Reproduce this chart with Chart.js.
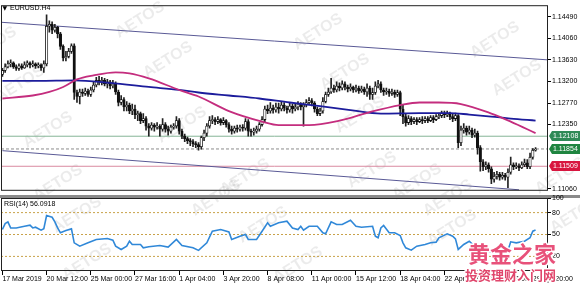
<!DOCTYPE html>
<html><head><meta charset="utf-8">
<script src="https://cdn.jsdelivr.net/npm/chart.js@4.4.1/dist/chart.umd.min.js"></script>
<style>
html,body{margin:0;padding:0;background:#fff;}
#wrap{position:relative;width:580px;height:286px;overflow:hidden;background:#fff;}
canvas{position:absolute;left:0;}
</style></head><body>
<div id="wrap">
<canvas id="bg" width="580" height="286" style="top:0"></canvas>
<canvas id="main" width="580" height="196" style="top:0"></canvas>
<canvas id="rsi" width="580" height="100" style="top:186px"></canvas>
</div>
<script>
// ---------- DATA ----------
const symbolTitle = 'EURUSD.H4';
const rsiTitle = 'RSI(14) 56.0918';
const opens = [
1.1334,1.1342,1.1349,1.1355,1.1357,1.1349,1.1346,1.1351,1.1347,1.1353,
1.1357,1.1353,1.1355,1.1351,1.1353,1.1347,1.1355,1.1430,1.1434,1.1422,
1.1428,1.1415,1.1390,1.1367,1.1370,1.1380,1.1391,1.1298,1.1290,1.1299,
1.1296,1.1301,1.1294,1.1303,1.1313,1.1322,1.1319,1.1322,1.1315,1.1319,
1.1311,1.1315,1.1299,1.1278,1.1284,1.1269,1.1273,1.1261,1.1265,1.1254,
1.1256,1.1242,1.1246,1.1231,1.1227,1.1233,1.1229,1.1231,1.1225,1.1234,
1.1225,1.1221,1.1229,1.1231,1.1242,1.1221,1.1211,1.1206,1.1202,1.1200,
1.1196,1.1194,1.1190,1.1208,1.1217,1.1231,1.1242,1.1244,1.1240,1.1244,
1.1238,1.1242,1.1234,1.1225,1.1221,1.1227,1.1225,1.1229,1.1227,1.1240,
1.1221,1.1219,1.1221,1.1225,1.1234,1.1244,1.1265,1.1261,1.1267,1.1263,
1.1269,1.1265,1.1273,1.1267,1.1263,1.1271,1.1265,1.1269,1.1275,1.1269,
1.1273,1.1278,1.1282,1.1277,1.1265,1.1256,1.1261,1.1280,1.1294,1.1299,
1.1307,1.1303,1.1311,1.1307,1.1315,1.1309,1.1305,1.1309,1.1303,1.1307,
1.1301,1.1305,1.1299,1.1307,1.1294,1.1298,1.1311,1.1315,1.1303,1.1299,
1.1301,1.1296,1.1299,1.1294,1.1298,1.1265,1.1250,1.1238,1.1246,1.1240,
1.1244,1.1240,1.1244,1.1242,1.1246,1.1242,1.1248,1.1244,1.1250,1.1252,
1.1257,1.1254,1.1256,1.1250,1.1246,1.1252,1.1198,1.1223,1.1227,1.1219,
1.1223,1.1213,1.1217,1.1188,1.1160,1.1150,1.1154,1.1146,1.1125,1.1131,
1.1135,1.1129,1.1133,1.1129,1.1139,1.1154,1.1150,1.1152,1.1148,1.1154,
1.1158,1.1150,1.1169,1.1183];
const highs = [
1.1346,1.1355,1.1361,1.1363,1.1359,1.1353,1.1355,1.1355,1.1359,1.1361,
1.1359,1.1361,1.1357,1.1357,1.1355,1.1361,1.1453,1.1441,1.1439,1.1434,
1.1430,1.1418,1.1393,1.1380,1.1386,1.1395,1.1395,1.1303,1.1305,1.1305,
1.1307,1.1305,1.1309,1.1319,1.1328,1.1330,1.1328,1.1326,1.1324,1.1322,
1.1322,1.1319,1.1303,1.1292,1.1288,1.1280,1.1277,1.1275,1.1273,1.1261,
1.1259,1.1256,1.1250,1.1236,1.1238,1.1236,1.1238,1.1234,1.1246,1.1238,
1.1231,1.1233,1.1236,1.1250,1.1246,1.1225,1.1215,1.1209,1.1206,1.1204,
1.1200,1.1198,1.1211,1.1223,1.1236,1.1250,1.1252,1.1248,1.1250,1.1246,
1.1248,1.1244,1.1238,1.1231,1.1231,1.1233,1.1233,1.1234,1.1246,1.1244,
1.1225,1.1227,1.1231,1.1238,1.1250,1.1271,1.1273,1.1278,1.1273,1.1277,
1.1277,1.1280,1.1278,1.1271,1.1277,1.1275,1.1275,1.1280,1.1278,1.1278,
1.1284,1.1288,1.1286,1.1280,1.1269,1.1267,1.1288,1.1299,1.1307,1.1326,
1.1313,1.1319,1.1317,1.1321,1.1319,1.1313,1.1315,1.1311,1.1313,1.1311,
1.1311,1.1309,1.1315,1.1311,1.1307,1.1319,1.1322,1.1319,1.1307,1.1307,
1.1305,1.1305,1.1303,1.1303,1.1301,1.1273,1.1256,1.1252,1.1250,1.1248,
1.1248,1.1248,1.1250,1.1250,1.1250,1.1252,1.1252,1.1254,1.1257,1.1261,
1.1261,1.1261,1.1259,1.1256,1.1257,1.1254,1.1231,1.1236,1.1231,1.1231,
1.1227,1.1225,1.1221,1.1192,1.1164,1.1160,1.1158,1.1150,1.1139,1.1141,
1.1139,1.1139,1.1137,1.1146,1.1169,1.1158,1.1158,1.1156,1.1160,1.1165,
1.1164,1.1177,1.1186,1.1188];
const lows = [
1.1330,1.1338,1.1347,1.1349,1.1346,1.1342,1.1342,1.1344,1.1346,1.1349,
1.1347,1.1349,1.1346,1.1347,1.1342,1.1338,1.1351,1.1418,1.1415,1.1418,
1.1407,1.1384,1.1361,1.1361,1.1367,1.1376,1.1284,1.1278,1.1275,1.1290,
1.1292,1.1290,1.1290,1.1299,1.1309,1.1313,1.1313,1.1311,1.1307,1.1305,
1.1307,1.1294,1.1271,1.1273,1.1261,1.1261,1.1256,1.1254,1.1246,1.1242,
1.1236,1.1238,1.1223,1.1211,1.1223,1.1221,1.1225,1.1211,1.1221,1.1219,
1.1213,1.1217,1.1225,1.1227,1.1215,1.1206,1.1200,1.1196,1.1192,1.1190,
1.1188,1.1183,1.1185,1.1202,1.1211,1.1227,1.1236,1.1234,1.1236,1.1233,
1.1234,1.1229,1.1219,1.1215,1.1217,1.1219,1.1221,1.1221,1.1223,1.1211,
1.1211,1.1213,1.1217,1.1221,1.1231,1.1240,1.1256,1.1257,1.1257,1.1259,
1.1257,1.1261,1.1261,1.1257,1.1259,1.1257,1.1261,1.1263,1.1263,1.1231,
1.1269,1.1275,1.1271,1.1259,1.1252,1.1252,1.1257,1.1277,1.1290,1.1296,
1.1298,1.1299,1.1301,1.1303,1.1303,1.1299,1.1301,1.1298,1.1299,1.1296,
1.1298,1.1294,1.1290,1.1284,1.1284,1.1294,1.1307,1.1298,1.1292,1.1294,
1.1290,1.1292,1.1288,1.1290,1.1252,1.1236,1.1231,1.1234,1.1234,1.1236,
1.1234,1.1238,1.1236,1.1238,1.1238,1.1240,1.1238,1.1242,1.1246,1.1248,
1.1248,1.1250,1.1244,1.1240,1.1242,1.1188,1.1192,1.1217,1.1213,1.1215,
1.1208,1.1209,1.1175,1.1141,1.1142,1.1144,1.1139,1.1116,1.1119,1.1125,
1.1123,1.1125,1.1123,1.1108,1.1135,1.1144,1.1146,1.1142,1.1146,1.1150,
1.1146,1.1146,1.1165,1.1181];
const closes = [
1.1342,1.1349,1.1355,1.1357,1.1349,1.1346,1.1351,1.1347,1.1353,1.1357,
1.1353,1.1355,1.1351,1.1353,1.1347,1.1355,1.1430,1.1434,1.1422,1.1428,
1.1415,1.1390,1.1367,1.1370,1.1380,1.1391,1.1298,1.1290,1.1299,1.1296,
1.1301,1.1294,1.1303,1.1313,1.1322,1.1319,1.1322,1.1315,1.1319,1.1311,
1.1315,1.1299,1.1278,1.1284,1.1269,1.1273,1.1261,1.1265,1.1254,1.1256,
1.1242,1.1246,1.1231,1.1227,1.1233,1.1229,1.1231,1.1225,1.1234,1.1225,
1.1221,1.1229,1.1231,1.1242,1.1221,1.1211,1.1206,1.1202,1.1200,1.1196,
1.1194,1.1190,1.1208,1.1217,1.1231,1.1242,1.1244,1.1240,1.1244,1.1238,
1.1242,1.1234,1.1225,1.1221,1.1227,1.1225,1.1229,1.1227,1.1240,1.1221,
1.1219,1.1221,1.1225,1.1234,1.1244,1.1265,1.1261,1.1267,1.1263,1.1269,
1.1265,1.1273,1.1267,1.1263,1.1271,1.1265,1.1269,1.1275,1.1269,1.1273,
1.1278,1.1282,1.1277,1.1265,1.1256,1.1261,1.1280,1.1294,1.1299,1.1307,
1.1303,1.1311,1.1307,1.1315,1.1309,1.1305,1.1309,1.1303,1.1307,1.1301,
1.1305,1.1299,1.1307,1.1294,1.1298,1.1311,1.1315,1.1303,1.1299,1.1301,
1.1296,1.1299,1.1294,1.1298,1.1265,1.1250,1.1238,1.1246,1.1240,1.1244,
1.1240,1.1244,1.1242,1.1246,1.1242,1.1248,1.1244,1.1250,1.1252,1.1257,
1.1254,1.1256,1.1250,1.1246,1.1252,1.1198,1.1223,1.1227,1.1219,1.1223,
1.1213,1.1217,1.1188,1.1160,1.1150,1.1154,1.1146,1.1125,1.1131,1.1135,
1.1129,1.1133,1.1129,1.1139,1.1154,1.1150,1.1152,1.1148,1.1154,1.1158,
1.1150,1.1169,1.1183,1.11854];

// moving averages (bar index -> value)
const maSlowBars = [0,13,26,39,53,64,71,82,93,104,115,126,137,151,162,169,177,184,193];
const maSlow = [1.1321,1.1321,1.1322,1.1317,1.1309,1.1303,1.1298,1.1292,1.1286,1.1278,1.1271,1.1263,1.1256,1.1257,1.1257,1.1254,1.1250,1.1246,1.1242];
const maFastBars = [0,11,17,22,27,33,41,46,53,64,71,82,94,100,111,122,133,144,151,158,166,177,184,193];
const maFast = [1.1286,1.1292,1.1299,1.1309,1.1324,1.1332,1.1338,1.1336,1.1326,1.1303,1.1290,1.1261,1.1240,1.1233,1.1233,1.1242,1.1259,1.1273,1.1278,1.1278,1.1275,1.1256,1.1240,1.1217];

// channel trend lines
const channelUpperBars = [-0.5,197.5];
const channelUpper = [1.1438,1.1363];
const channelLowerBars = [0,187];
const channelLower = [1.1182,1.1104];

// horizontal levels
const levelGreen = 1.12108;
const levelBid = 1.11854;
const levelRed = 1.11509;

// price axis ticks
const priceTicks = [1.14490,1.14060,1.13630,1.13200,1.12770,1.12350,1.11060];

// RSI
const rsiBars = [0,1,2,3,5,8,10,11,12,14,15,16,18,19,20,21,23,25,26,28,31,34,38,40,41,43,45,46,47,50,51,53,57,60,63,65,69,71,74,76,79,82,83,86,88,89,92,94,96,97,100,103,105,107,108,109,111,114,116,117,119,121,123,126,128,130,134,135,136,137,138,140,142,144,145,146,148,150,153,155,157,158,161,163,164,165,167,169,172,177,180,183,184,186,189,191,192,193];
const rsiValues = [56.8,65,67.3,59,59,61.3,62.7,59,60,55.9,58,75.9,73.6,67.3,59,52.3,55.4,57.7,38.6,34,38.6,43.2,44.5,42.2,34,29.5,34,40.8,36.3,36.3,31.8,33.2,35,32.7,43.2,35,31.8,28.2,38.6,54.5,56.8,53.6,43.2,47.7,50,43.2,43.2,54.5,66,61.3,66,68.2,59,56.8,61.3,55.9,61.3,61.3,52.3,50.9,67.3,63.6,63.6,69.5,61.3,60,61.3,47.7,45.5,59,62.3,52.3,52.3,48.6,38.6,31.8,28.6,34,36.3,38.6,39.5,45.5,50.9,47.7,44.1,29.5,36.3,40.8,30,26,32,28,40,38.6,40.8,45.5,54.5,56.09];
const rsiLevels = [80,50,20];
const rsiTicks = [100,80,50,20];

// time axis
const xLabelBars = [0,16,32,48,64,80,96,112,128,144,160,176,192];
const xLabels = ['17 Mar 2019','20 Mar 12:00','25 Mar 00:00','27 Mar 16:00','1 Apr 04:00','3 Apr 20:00','8 Apr 08:00','11 Apr 00:00','15 Apr 12:00','18 Apr 04:00','22 Apr 16:00','25 Apr 08:00','29 Apr 20:00'];

const N_SLOTS = 198;

// ---------- STYLE ----------
const FONT = "'Liberation Sans', Arial, sans-serif";
Chart.defaults.font.family = FONT;
Chart.defaults.font.size = 7;
Chart.defaults.color = '#000';

// background watermarks
(function(){
  const c = document.getElementById('bg').getContext('2d');
  c.fillStyle = '#fff'; c.fillRect(0,0,580,286);
  const wm = [[140,20],[168,60],[318,32],[345,72],[495,40],[517,78],[-8,45],[20,84],[48,130],[58,183],[182,125],[360,115],[245,177],[372,170],[417,182],[560,176],[77,215],[87,262],[263,225],[298,265],[216,198],[448,198],[452,228],[575,215]];
  c.fillStyle = 'rgba(0,0,0,0.08)';
  c.font = "bold 16px " + FONT;
  c.textAlign = 'center'; c.textBaseline = 'middle';
  wm.forEach(([x,y]) => { c.save(); c.translate(x,y); c.rotate(-0.56); c.fillText('AETOS',0,0); c.restore(); });
  c.fillStyle = '#8a8a8a';
  c.fillRect(0,195,580,3);
})();

const framePlugin = {
  id:'frame',
  afterDraw(chart){
    const {ctx, chartArea:a} = chart;
    ctx.save();
    ctx.strokeStyle = '#222'; ctx.lineWidth = 1;
    ctx.strokeRect(a.left+0.5, a.top+0.5, a.right-a.left-1, a.bottom-a.top-1);
    ctx.restore();
  }
};

const mainTextPlugin = {
  id:'mainText',
  afterDraw(chart){
    const {ctx} = chart;
    const y = chart.scales.y;
    ctx.save();
    ctx.fillStyle = '#000';
    ctx.font = "6px 'DejaVu Sans'";
    ctx.textBaseline = 'middle';
    ctx.fillText('\u25BC', 2.5, 8.5);
    ctx.font = "7px " + FONT;
    ctx.fillText(symbolTitle, 10, 8.5);
    // price labels
    const boxes = [[levelGreen,'#2f8a57'],[levelBid,'#1f8540'],[levelRed,'#d8163f']];
    const x0 = chart.chartArea.right;
    boxes.forEach(([v,col]) => {
      const py = Math.round(y.getPixelForValue(v));
      ctx.fillStyle = col;
      ctx.beginPath();
      ctx.moveTo(x0+1, py);
      ctx.lineTo(x0+4, py-5);
      ctx.lineTo(580, py-5);
      ctx.lineTo(580, py+5);
      ctx.lineTo(x0+4, py+5);
      ctx.closePath();
      ctx.fill();
      ctx.fillStyle = '#fff';
      ctx.font = "7px " + FONT;
      ctx.textAlign = 'left';
      ctx.fillText(v.toFixed(5), x0+5, py+0.5);
    });
    ctx.restore();
  }
};

const pts = (bars, vals) => bars.map((b,i) => ({x:b, y:vals[i]}));
const barIdx = closes.map((_, i) => i);
const hline = v => [{x:-0.5,y:v},{x:N_SLOTS-0.5,y:v}];

new Chart(document.getElementById('main'), {
  type:'bar',
  data:{datasets:[
    {type:'line', data:pts(maFastBars, maFast), borderColor:'#c42d7e', borderWidth:1.8, pointRadius:0, cubicInterpolationMode:'monotone', order:1},
    {type:'line', data:pts(maSlowBars, maSlow), borderColor:'#1c1c9c', borderWidth:1.8, pointRadius:0, cubicInterpolationMode:'monotone', order:2},
    {type:'bar', data:barIdx.map(i => ({x:i, y:[opens[i], closes[i]]})), barThickness:2.5, grouped:false, minBarLength:1,
      backgroundColor: c => (closes[c.dataIndex] >= opens[c.dataIndex] ? '#fff' : '#111'),
      borderColor:'#111', borderWidth:0.8, borderSkipped:false, order:4},
    {type:'bar', data:barIdx.map(i => ({x:i, y:[lows[i], highs[i]]})), barThickness:1, grouped:false, backgroundColor:'#222', borderWidth:0, order:5},
    {type:'line', data:pts(channelUpperBars, channelUpper), borderColor:'#5a5a96', borderWidth:1, pointRadius:0, order:8},
    {type:'line', data:pts(channelLowerBars, channelLower), borderColor:'#5a5a96', borderWidth:1, pointRadius:0, order:8},
    {type:'line', data:hline(levelGreen), borderColor:'#86b496', borderWidth:1, pointRadius:0, order:9},
    {type:'line', data:hline(levelBid), borderColor:'#8c8c8c', borderWidth:1, borderDash:[3,2], pointRadius:0, order:9},
    {type:'line', data:hline(levelRed), borderColor:'#d98aa0', borderWidth:1, pointRadius:0, order:9}
  ]},
  options:{
    animation:false, responsive:false, devicePixelRatio:1,
    layout:{padding:{left:1, top:2, right:0, bottom:1}},
    plugins:{legend:{display:false}, tooltip:{enabled:false}},
    scales:{
      x:{type:'linear', min:-0.5, max:N_SLOTS-0.5, offset:false, display:false},
      y:{type:'linear', position:'right', min:1.1102, max:1.1472,
        afterFit: s => { s.width = 32; },
        afterBuildTicks: s => { s.ticks = priceTicks.map(v => ({value:v})); },
        ticks:{autoSkip:false, padding:1, font:{size:7}, color:'#000', callback: v => Number(v).toFixed(5)},
        grid:{drawOnChartArea:false, drawTicks:true, tickLength:3, color:'#000'},
        border:{display:false}}
    }
  },
  plugins:[framePlugin, mainTextPlugin]
});

const rsiTextPlugin = {
  id:'rsiText',
  afterDraw(chart){
    const {ctx} = chart;
    ctx.save();
    ctx.fillStyle = '#000';
    ctx.font = "7px " + FONT;
    ctx.textBaseline = 'middle';
    ctx.fillText(rsiTitle, 4, 18);
    // site watermark
    ctx.font = "bold 22px 'Noto Sans CJK SC'";
    ctx.textAlign = 'left';
    ctx.lineJoin = 'round';
    ctx.strokeStyle = '#fff'; ctx.lineWidth = 3;
    ctx.strokeText('黄金之家', 468, 68);
    ctx.fillStyle = '#e8517a';
    ctx.fillText('黄金之家', 468, 68);
    ctx.font = "bold 13px 'Noto Sans CJK SC'";
    ctx.strokeText('投资理财入门网', 465, 89);
    ctx.fillStyle = '#e0466c';
    ctx.fillText('投资理财入门网', 465, 89);
    ctx.restore();
  }
};

new Chart(document.getElementById('rsi'), {
  type:'line',
  data:{datasets:[
    {data:pts(rsiBars, rsiValues), borderColor:'#3088d8', borderWidth:1.6, pointRadius:0, order:1},
    ...rsiLevels.map(v => ({data:hline(v), borderColor:'#c8a24a', borderWidth:1, borderDash:[2,2], pointRadius:0, order:5}))
  ]},
  options:{
    animation:false, responsive:false, devicePixelRatio:1,
    layout:{padding:{left:1, top:12, right:0, bottom:0}},
    plugins:{legend:{display:false}, tooltip:{enabled:false}},
    scales:{
      x:{type:'linear', min:-0.5, max:N_SLOTS-0.5, offset:false,
        afterFit: s => { s.height = 15; },
        afterBuildTicks: s => { s.ticks = xLabelBars.map(v => ({value:v})); },
        ticks:{autoSkip:false, maxRotation:0, minRotation:0, align:'start', padding:0, font:{size:7}, color:'#000',
          callback: (v, i) => xLabels[i]},
        grid:{drawOnChartArea:false, drawTicks:true, tickLength:4, color:'#000'},
        border:{display:false}},
      y:{type:'linear', position:'right', min:0, max:100,
        afterFit: s => { s.width = 32; },
        afterBuildTicks: s => { s.ticks = rsiTicks.map(v => ({value:v})); },
        ticks:{autoSkip:false, padding:1, font:{size:7}, color:'#000'},
        grid:{drawOnChartArea:false, drawTicks:true, tickLength:3, color:'#000'},
        border:{display:false}}
    }
  },
  plugins:[framePlugin, rsiTextPlugin]
});
</script>
</body></html>
